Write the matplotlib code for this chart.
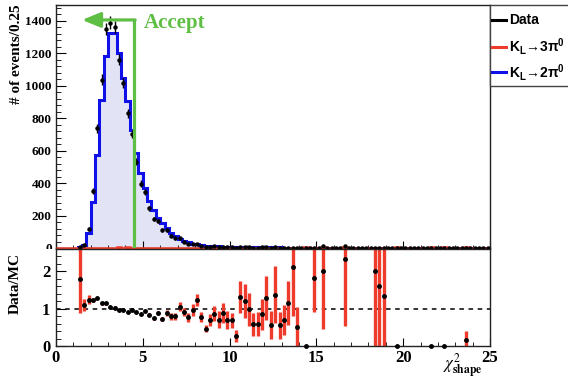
import numpy as np
import matplotlib
matplotlib.use("Agg")
import matplotlib.pyplot as plt
from matplotlib.lines import Line2D
from matplotlib.patches import Rectangle
from matplotlib.ticker import MultipleLocator

# ---- histogram content: 0.25-wide bins of chi2_shape, starting at 1.25 ----
bin_lo = 1.25
bin_w = 0.25

# K_L -> 2pi0 MC (normalised)
mc_2pi0 = [
    5, 19, 94, 285, 575, 910, 1185, 1322, 1322, 1200,
    1045, 905, 725, 585, 462, 368, 290, 236, 186, 154,
    123, 95, 74, 57, 44, 34, 27, 22, 18, 15,
    13, 11.5, 10, 9, 8.6, 7.2, 7.4, 6.1, 5.8, 5.1,
    5.2, 5.1, 4.7, 3.85, 3.6, 2.9, 3.6, 2.85, 2.6, 1.42,
    1.92, 0, 0, 0, 0.55, 0, 0, 0, 0, 0,
    0, 0, 0, 0, 0, 0, 0, 0, 0.5, 0.62,
    0.75, 0, 0, 0, 0, 0, 0, 0, 0, 0,
    0, 0, 0, 0, 0, 0, 0, 0, 0, 0,
    0, 0, 0, 0, 0,
]

# K_L -> 3pi0 MC (normalised)
mc_3pi0 = [
    0, 0, 0, 0, 0, 0, 0, 0, 0, 6,
    0, 6, 0, 0, 0, 0, 0, 0, 0, 0,
    0, 0, 0, 0, 0, 0, 0, 0, 0, 0,
    0, 0, 0, 0, 0, 0, 0, 0, 0, 0,
    0, 0, 0, 0, 0, 0, 0, 0, 0, 0,
    0, 0, 6, 0, 0, 0, 6, 0, 0, 0,
    0, 6, 0, 0, 0, 0, 0, 0, 0, 0,
    0, 0, 0, 6, 0, 0, 0, 0, 0, 0,
    0, 6, 0, 0, 6, 0, 0, 0, 0, 6.7,
    0, 0, 0, 0, 0,
]

# observed events
data = [
    9, 21, 117, 351, 736, 1037, 1351, 1388, 1362, 1158,
    1014, 829, 703, 532, 397, 342, 244, 177, 164, 111,
    109, 76, 59, 60, 40, 26, 26, 27, 14, 7,
    9, 10, 7, 8, 6, 5, 2, 8, 7, 5,
    3, 3, 4, 5, 2, 4, 2, 2, 3, 3,
    1, 0, 0, 0, 1, 0, 12, 0, 0, 0,
    0, 14, 0, 0, 0, 0, 0, 0, 1, 1,
    1, 0, 0, 0, 0, 0, 0, 0, 0, 0,
    0, 0, 0, 0, 0, 0, 0, 0, 0, 1,
    0, 0, 0, 0, 0,
]

# uncertainty on Data/MC (MC statistics)
ratio_err = [
    0.92, 0.16, 0.11, 0.05, 0.03, 0.03, 0.03, 0.03, 0.03, 0.03,
    0.03, 0.03, 0.03, 0.03, 0.03, 0.03, 0.04, 0.04, 0.05, 0.05,
    0.07, 0.09, 0.09, 0.12, 0.11, 0.11, 0.15, 0.16, 0.14, 0.10,
    0.16, 0.21, 0.23, 0.27, 0.23, 0.20, 0.16, 0.43, 0.45, 0.45,
    0.31, 0.33, 0.42, 0.59, 0.37, 0.76, 0.36, 0.40, 0.60, 1.30,
    0.53, 0, 0.02, 0, 0.90, 0, 1.55, 0, 0, 0,
    0, 1.80, 0, 0, 0, 0, 0, 0, 2.10, 1.70,
    1.40, 0, 0, 0.03, 0, 0, 0, 0, 0, 0,
    0, 0.03, 0, 0, 0.03, 0, 0, 0, 0, 0.25,
    0, 0, 0, 0, 0,
]

x_range = (0, 25)
y_max_top = 1496
y_max_ratio = 2.6
cut_value = 4.5

# ---- colours ----
c_blue = "#1010e8"
c_fill = "#e2e4f6"
c_red = "#ee3b2b"
c_green = "#5fbe44"

serif = "Liberation Serif"
sans = "Liberation Sans"
plt.rcParams["mathtext.fontset"] = "custom"
plt.rcParams["mathtext.rm"] = "Liberation Sans:bold"
plt.rcParams["mathtext.bf"] = "Liberation Sans:bold"
plt.rcParams["mathtext.it"] = "Liberation Sans:bold"

mc2 = np.array(mc_2pi0, float)
mc3 = np.array(mc_3pi0, float)
obs = np.array(data, float)
rerr = np.array(ratio_err, float)
n = len(mc2)
edges = bin_lo + bin_w * np.arange(n + 1)
centers = 0.5 * (edges[:-1] + edges[1:])
mc_tot = mc2 + mc3

W, H = 568, 383
fig = plt.figure(figsize=(W / 100, H / 100), dpi=100)


def fx(px):
    return px / W


def fy(py):
    return 1 - py / H


ax = fig.add_axes([fx(56), fy(248), fx(490) - fx(56), fy(5) - fy(248)])
axr = fig.add_axes([fx(56), fy(346), fx(490) - fx(56), fy(249) - fy(346)])

# ---- top panel ----
ax.stairs(mc2, edges, fill=True, color=c_fill, zorder=1)
ax.stairs(mc2, edges, color=c_blue, lw=2.2, zorder=2)

# 3pi0 background drawn over the whole axis range
full_edges = np.concatenate([np.arange(0, bin_lo, bin_w), edges])
full_mc3 = np.concatenate([np.zeros(len(full_edges) - 1 - n), mc3])
ax.stairs(full_mc3, full_edges, color=c_red, lw=1.8, zorder=3, clip_on=False)

ax.errorbar(centers, obs, yerr=np.sqrt(obs), fmt="o", ms=2.2, color="black",
            elinewidth=1.0, capsize=0, zorder=4, clip_on=False)

# selection cut
ax.plot([cut_value, cut_value], [0, 1404], color=c_green, lw=2.3, zorder=5,
        solid_capstyle="butt")
ax.annotate("", xy=(1.5, 1404), xytext=(cut_value + 0.06, 1404),
            arrowprops=dict(arrowstyle="-|>,head_length=1.1,head_width=0.45",
                            color=c_green, lw=2.3, mutation_scale=10,
                            shrinkA=0, shrinkB=0), zorder=5)
ax.text(5.05, 1355, "Accept", color=c_green, fontsize=15, fontfamily=serif,
        fontweight="bold", ha="left", va="baseline")

ax.set_xlim(*x_range)
ax.set_ylim(0, y_max_top)
ax.set_yticks(np.arange(0, 1401, 200))
ax.yaxis.set_minor_locator(MultipleLocator(40))
ax.xaxis.set_major_locator(MultipleLocator(5))
ax.xaxis.set_minor_locator(MultipleLocator(1))
ax.tick_params(axis="x", which="both", direction="in", labelbottom=False)
ax.tick_params(axis="x", which="major", length=5)
ax.tick_params(axis="x", which="minor", length=2.5)
ax.tick_params(axis="y", which="both", direction="in", pad=3)
ax.tick_params(axis="y", which="major", length=7)
ax.tick_params(axis="y", which="minor", length=3.5)
for lab in ax.get_yticklabels():
    lab.set_fontfamily(serif)
    lab.set_fontweight("bold")
    lab.set_fontsize(9.5)

# ---- ratio panel ----
valid = mc_tot > 0
ratio = np.where(valid, obs / np.where(valid, mc_tot, 1), np.nan)
axr.errorbar(centers[valid], ratio[valid], yerr=rerr[valid], fmt="none",
             ecolor=c_red, elinewidth=2.4, capsize=0, zorder=2)
axr.plot(centers[valid], ratio[valid], "o", ms=2.5, color="black", zorder=3,
         clip_on=False)
axr.axhline(1.0, color="black", lw=1.1, ls=(0, (3, 3)), zorder=1)

axr.set_xlim(*x_range)
axr.set_ylim(0, y_max_ratio)
axr.set_yticks([0, 1, 2])
axr.yaxis.set_minor_locator(MultipleLocator(0.2))
axr.xaxis.set_major_locator(MultipleLocator(5))
axr.xaxis.set_minor_locator(MultipleLocator(1))
axr.tick_params(axis="both", which="both", direction="in")
axr.tick_params(axis="x", which="major", length=6, pad=3)
axr.tick_params(axis="x", which="minor", length=3)
axr.tick_params(axis="y", which="major", length=7, pad=4)
axr.tick_params(axis="y", which="minor", length=3.5)
for lab in axr.get_xticklabels() + axr.get_yticklabels():
    lab.set_fontfamily(serif)
    lab.set_fontweight("bold")
    lab.set_fontsize(12)

for a in (ax, axr):
    for s in a.spines.values():
        s.set_linewidth(1.0)
        s.set_color("#222222")

# ratio pad background hides the lower half of the top panel's "0"
fig.patches.append(Rectangle((0, fy(262)), fx(54), fy(249) - fy(262),
                             transform=fig.transFigure, facecolor="white",
                             edgecolor="none", zorder=1))

# axis titles
fig.text(fx(17), fy(4), "# of events/0.25", rotation=90, ha="center", va="top",
         fontfamily=serif, fontweight="bold", fontsize=11, zorder=3)
fig.text(fx(15), fy(283), "Data/MC", rotation=90, ha="center", va="center",
         fontfamily=serif, fontweight="bold", fontsize=11, zorder=3)
fig.text(fx(483), fy(370), r"$\chi^{2}_{\mathbf{shape}}$", ha="right",
         va="baseline", fontsize=12, math_fontfamily="stix", zorder=3)

# ---- legend box beside the plot ----
fig.patches.append(Rectangle((fx(490), fy(86)), fx(90), fy(5) - fy(86),
                             transform=fig.transFigure, facecolor="white",
                             edgecolor="#444444", lw=1.0, zorder=2,
                             clip_on=False))
legend_rows = [
    ("black", "Data", 20),
    (c_red, r"K$_{\mathbf{L}}$→3π$^{\mathbf{0}}$", 46.5),
    (c_blue, r"K$_{\mathbf{L}}$→2π$^{\mathbf{0}}$", 72),
]
for col, label, ypx in legend_rows:
    fig.lines.append(Line2D([fx(492), fx(506)], [fy(ypx), fy(ypx)],
                            transform=fig.transFigure, color=col, lw=2.2,
                            zorder=3))
    fig.text(fx(509), fy(ypx), label, ha="left", va="center",
             fontfamily=[sans, "DejaVu Sans"], fontweight="bold", fontsize=10,
             math_fontfamily="custom", zorder=3)

fig.savefig("out.png", dpi=100)
